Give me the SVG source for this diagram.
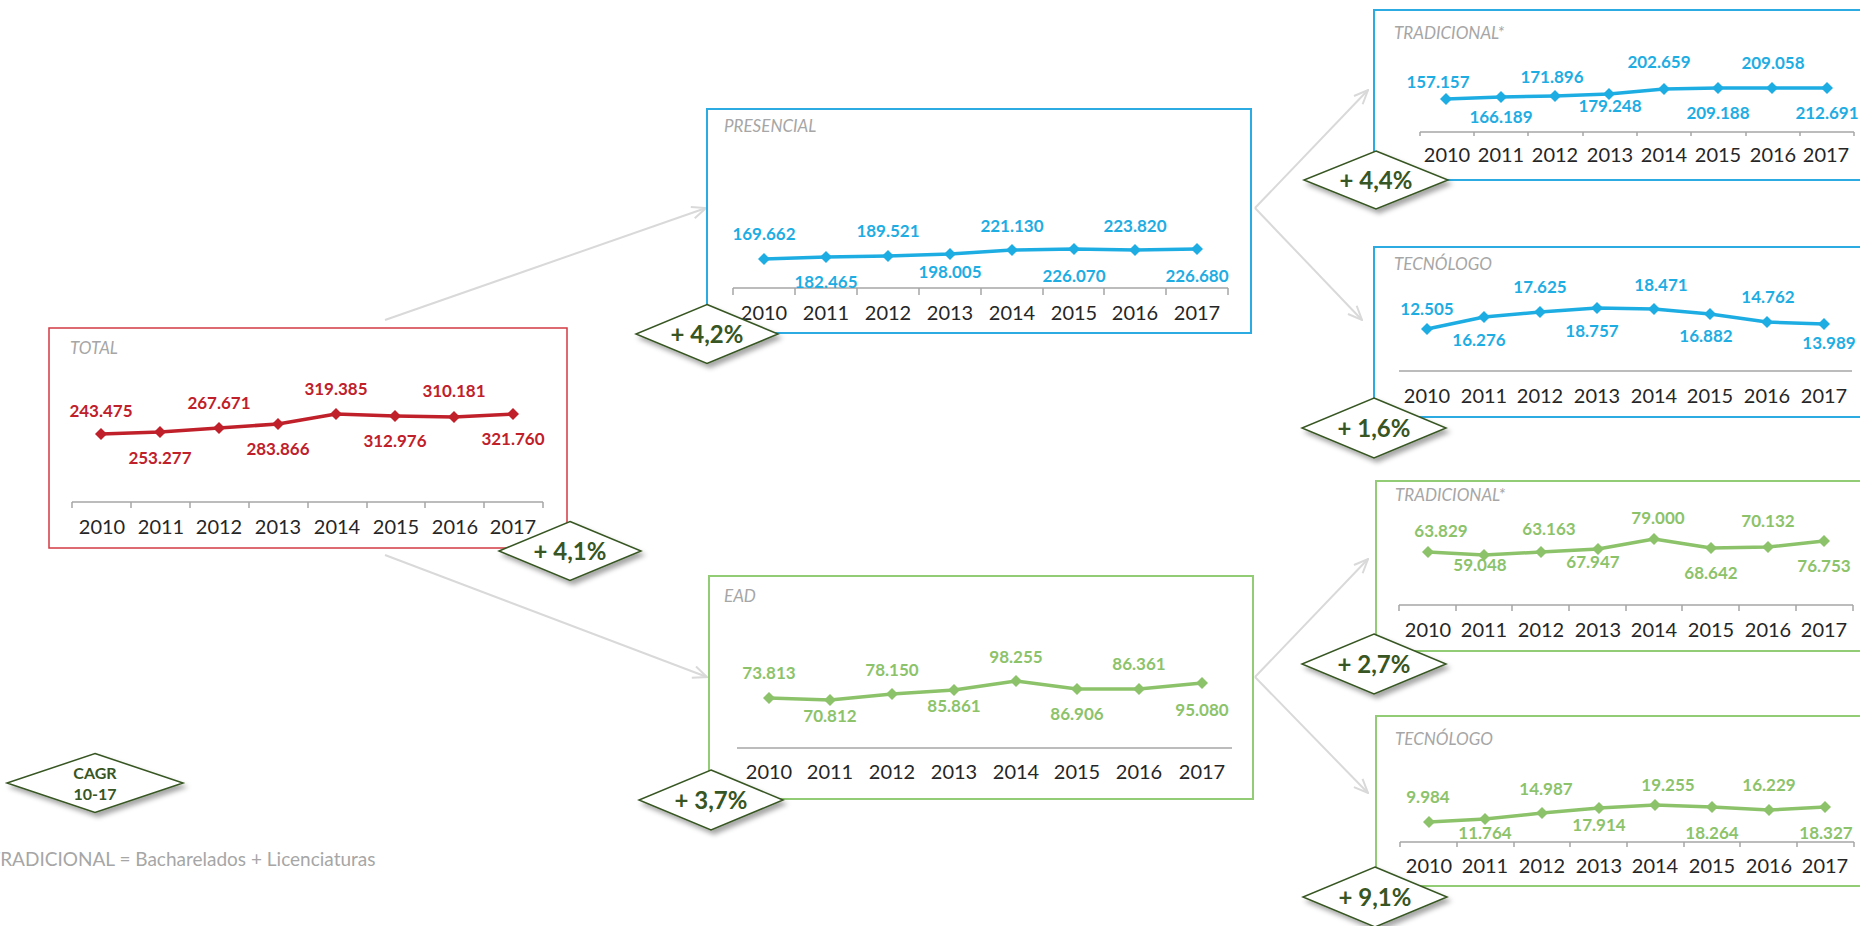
<svg xmlns="http://www.w3.org/2000/svg" xmlns:xlink="http://www.w3.org/1999/xlink" width="1860" height="926" viewBox="0 0 1860 926">
<defs>
<style>
.bg{fill:#fff}
.box-r{fill:#fff;stroke:#d43a43;stroke-width:1.5}
.box-b{fill:#fff;stroke:#2cabe3;stroke-width:2}
.box-g{fill:#fff;stroke:#92cc74;stroke-width:2}
.ttl{font-family:Lato,"Open Sans",sans-serif;font-style:italic;font-size:17px;fill:#a6a6a6}
.yr{font-family:Lato,"Open Sans",sans-serif;font-size:20px;fill:#262626;text-anchor:middle}
.v{font-family:Lato,"Open Sans",sans-serif;font-weight:700;font-size:17px;text-anchor:middle}
.r{fill:#c0202a}
.b{fill:#1eade3}
.g{fill:#8cc36a}
.ln{fill:none;stroke-width:3.5;stroke-linejoin:round;stroke-linecap:round}
.lr{stroke:#c0202a}
.lb{stroke:#1eade3}
.lg{stroke:#8cc36a}
.ax{stroke:#a6a6a6;stroke-width:1.5;fill:none}
.dm{fill:#fff;stroke:#375623;stroke-width:1.5;filter:url(#sh)}
.dt{font-family:Lato,"Open Sans",sans-serif;font-weight:700;font-size:24px;fill:#375623;text-anchor:middle}
.ct{font-family:Lato,"Open Sans",sans-serif;font-weight:700;font-size:16px;fill:#375623;text-anchor:middle}
.cn{stroke:#d9d9d9;stroke-width:2;fill:none;marker-end:url(#arr)}
.ft{font-family:Lato,"Open Sans",sans-serif;font-size:19px;fill:#a6a6a6}
</style>
<marker id="arr" viewBox="0 0 16 14" refX="15" refY="7" markerWidth="16" markerHeight="14" markerUnits="userSpaceOnUse" orient="auto">
<path d="M1,1 L15,7 L1,13" fill="none" stroke="#d9d9d9" stroke-width="2"/>
</marker>
<filter id="sh" x="-20%" y="-30%" width="150%" height="180%">
<feDropShadow dx="3" dy="4" stdDeviation="2.5" flood-color="#000" flood-opacity="0.35"/>
</filter>
<path id="mk" d="M0,-6 L6,0 L0,6 L-6,0Z"/>
</defs>
<rect class="bg" x="0" y="0" width="1860" height="926"/>

<g id="connectors">
<line class="cn" x1="385" y1="320" x2="706" y2="208"/>
<line class="cn" x1="385" y1="555" x2="707" y2="677"/>
<line class="cn" x1="1255" y1="208" x2="1368" y2="90"/>
<line class="cn" x1="1255" y1="208" x2="1362" y2="320"/>
<line class="cn" x1="1255" y1="677" x2="1368" y2="559"/>
<line class="cn" x1="1255" y1="677" x2="1368" y2="793"/>
</g>

<g id="total">
<rect class="box-r" x="49" y="328" width="518" height="220"/>
<text class="ttl" x="70" y="354">TOTAL</text>
<path class="ax" d="M72,502 H543 M72,502 V508 M131,502 V508 M190,502 V508 M249,502 V508 M308,502 V508 M367,502 V508 M425,502 V508 M484,502 V508 M543,502 V508"/>
<polyline class="ln lr" points="101,434 160,432 219,428 278,424 336,414 395,416 454,417 513,414"/>
<g class="r">
<use xlink:href="#mk" x="101" y="434"/><use xlink:href="#mk" x="160" y="432"/><use xlink:href="#mk" x="219" y="428"/><use xlink:href="#mk" x="278" y="424"/><use xlink:href="#mk" x="336" y="414"/><use xlink:href="#mk" x="395" y="416"/><use xlink:href="#mk" x="454" y="417"/><use xlink:href="#mk" x="513" y="414"/>
<text class="v" x="101" y="417">243.475</text>
<text class="v" x="160" y="464">253.277</text>
<text class="v" x="219" y="409">267.671</text>
<text class="v" x="278" y="455">283.866</text>
<text class="v" x="336" y="395">319.385</text>
<text class="v" x="395" y="447">312.976</text>
<text class="v" x="454" y="397">310.181</text>
<text class="v" x="513" y="445">321.760</text>
</g>
<text class="yr" x="102" y="534">2010</text><text class="yr" x="161" y="534">2011</text><text class="yr" x="219" y="534">2012</text><text class="yr" x="278" y="534">2013</text><text class="yr" x="337" y="534">2014</text><text class="yr" x="396" y="534">2015</text><text class="yr" x="455" y="534">2016</text><text class="yr" x="513" y="534">2017</text>
</g>

<g id="presencial">
<rect class="box-b" x="707" y="109" width="544" height="224"/>
<text class="ttl" x="724" y="132">PRESENCIAL</text>
<path class="ax" d="M733,288 H1228 M733,288 V295 M795,288 V295 M857,288 V295 M919,288 V295 M981,288 V295 M1043,288 V295 M1104,288 V295 M1166,288 V295 M1228,288 V295"/>
<polyline class="ln lb" points="764,259 826,257 888,256 950,254 1012,250 1074,249 1135,250 1197,249"/>
<g class="b">
<use xlink:href="#mk" x="764" y="259"/><use xlink:href="#mk" x="826" y="257"/><use xlink:href="#mk" x="888" y="256"/><use xlink:href="#mk" x="950" y="254"/><use xlink:href="#mk" x="1012" y="250"/><use xlink:href="#mk" x="1074" y="249"/><use xlink:href="#mk" x="1135" y="250"/><use xlink:href="#mk" x="1197" y="249"/>
<text class="v" x="764" y="240">169.662</text>
<text class="v" x="826" y="288">182.465</text>
<text class="v" x="888" y="237">189.521</text>
<text class="v" x="950" y="278">198.005</text>
<text class="v" x="1012" y="232">221.130</text>
<text class="v" x="1074" y="282">226.070</text>
<text class="v" x="1135" y="232">223.820</text>
<text class="v" x="1197" y="282">226.680</text>
</g>
<text class="yr" x="764" y="320">2010</text><text class="yr" x="826" y="320">2011</text><text class="yr" x="888" y="320">2012</text><text class="yr" x="950" y="320">2013</text><text class="yr" x="1012" y="320">2014</text><text class="yr" x="1074" y="320">2015</text><text class="yr" x="1135" y="320">2016</text><text class="yr" x="1197" y="320">2017</text>
</g>

<g id="ead">
<rect class="box-g" x="709" y="576" width="544" height="223"/>
<text class="ttl" x="724" y="602">EAD</text>
<path class="ax" d="M737,748 H1232"/>
<polyline class="ln lg" points="769,698 830,700 892,694 954,690 1016,681 1077,689 1139,689 1202,683"/>
<g class="g">
<use xlink:href="#mk" x="769" y="698"/><use xlink:href="#mk" x="830" y="700"/><use xlink:href="#mk" x="892" y="694"/><use xlink:href="#mk" x="954" y="690"/><use xlink:href="#mk" x="1016" y="681"/><use xlink:href="#mk" x="1077" y="689"/><use xlink:href="#mk" x="1139" y="689"/><use xlink:href="#mk" x="1202" y="683"/>
<text class="v" x="769" y="679">73.813</text>
<text class="v" x="830" y="722">70.812</text>
<text class="v" x="892" y="676">78.150</text>
<text class="v" x="954" y="712">85.861</text>
<text class="v" x="1016" y="663">98.255</text>
<text class="v" x="1077" y="720">86.906</text>
<text class="v" x="1139" y="670">86.361</text>
<text class="v" x="1202" y="716">95.080</text>
</g>
<text class="yr" x="769" y="779">2010</text><text class="yr" x="830" y="779">2011</text><text class="yr" x="892" y="779">2012</text><text class="yr" x="954" y="779">2013</text><text class="yr" x="1016" y="779">2014</text><text class="yr" x="1077" y="779">2015</text><text class="yr" x="1139" y="779">2016</text><text class="yr" x="1202" y="779">2017</text>
</g>

<g id="presencial-tradicional">
<rect class="box-b" x="1374" y="10" width="500" height="170"/>
<text class="ttl" x="1394" y="39">TRADICIONAL*</text>
<path class="ax" d="M1420,132 H1854 M1420,132 V136 M1474,132 V136 M1528,132 V136 M1583,132 V136 M1637,132 V136 M1691,132 V136 M1746,132 V136 M1800,132 V136 M1854,132 V136"/>
<polyline class="ln lb" points="1446,99 1501,97 1555,96 1609,94 1664,89 1718,88 1772,88 1827,88"/>
<g class="b">
<use xlink:href="#mk" x="1446" y="99"/><use xlink:href="#mk" x="1501" y="97"/><use xlink:href="#mk" x="1555" y="96"/><use xlink:href="#mk" x="1609" y="94"/><use xlink:href="#mk" x="1664" y="89"/><use xlink:href="#mk" x="1718" y="88"/><use xlink:href="#mk" x="1772" y="88"/><use xlink:href="#mk" x="1827" y="88"/>
<text class="v" x="1438" y="88">157.157</text>
<text class="v" x="1501" y="123">166.189</text>
<text class="v" x="1552" y="83">171.896</text>
<text class="v" x="1610" y="112">179.248</text>
<text class="v" x="1659" y="68">202.659</text>
<text class="v" x="1718" y="119">209.188</text>
<text class="v" x="1773" y="69">209.058</text>
<text class="v" x="1827" y="119">212.691</text>
</g>
<text class="yr" x="1447" y="162">2010</text><text class="yr" x="1501" y="162">2011</text><text class="yr" x="1555" y="162">2012</text><text class="yr" x="1610" y="162">2013</text><text class="yr" x="1664" y="162">2014</text><text class="yr" x="1718" y="162">2015</text><text class="yr" x="1773" y="162">2016</text><text class="yr" x="1826" y="162">2017</text>
</g>

<g id="presencial-tecnologo">
<rect class="box-b" x="1374" y="247" width="500" height="170"/>
<text class="ttl" x="1394" y="270">TECNÓLOGO</text>
<path class="ax" d="M1399,371 H1852"/>
<polyline class="ln lb" points="1427,329 1484,317 1540,312 1597,308 1654,309 1710,314 1767,322 1824,324"/>
<g class="b">
<use xlink:href="#mk" x="1427" y="329"/><use xlink:href="#mk" x="1484" y="317"/><use xlink:href="#mk" x="1540" y="312"/><use xlink:href="#mk" x="1597" y="308"/><use xlink:href="#mk" x="1654" y="309"/><use xlink:href="#mk" x="1710" y="314"/><use xlink:href="#mk" x="1767" y="322"/><use xlink:href="#mk" x="1824" y="324"/>
<text class="v" x="1427" y="315">12.505</text>
<text class="v" x="1479" y="346">16.276</text>
<text class="v" x="1540" y="293">17.625</text>
<text class="v" x="1592" y="337">18.757</text>
<text class="v" x="1661" y="291">18.471</text>
<text class="v" x="1706" y="342">16.882</text>
<text class="v" x="1768" y="303">14.762</text>
<text class="v" x="1829" y="349">13.989</text>
</g>
<text class="yr" x="1427" y="403">2010</text><text class="yr" x="1484" y="403">2011</text><text class="yr" x="1540" y="403">2012</text><text class="yr" x="1597" y="403">2013</text><text class="yr" x="1654" y="403">2014</text><text class="yr" x="1710" y="403">2015</text><text class="yr" x="1767" y="403">2016</text><text class="yr" x="1824" y="403">2017</text>
</g>

<g id="ead-tradicional">
<rect class="box-g" x="1376" y="481" width="500" height="170"/>
<text class="ttl" x="1395" y="501">TRADICIONAL*</text>
<path class="ax" d="M1399,605 H1853 M1399,605 V611 M1456,605 V611 M1512,605 V611 M1569,605 V611 M1626,605 V611 M1682,605 V611 M1739,605 V611 M1796,605 V611 M1853,605 V611"/>
<polyline class="ln lg" points="1428,552 1484,555 1541,552 1598,549 1654,539 1711,548 1768,547 1824,541"/>
<g class="g">
<use xlink:href="#mk" x="1428" y="552"/><use xlink:href="#mk" x="1484" y="555"/><use xlink:href="#mk" x="1541" y="552"/><use xlink:href="#mk" x="1598" y="549"/><use xlink:href="#mk" x="1654" y="539"/><use xlink:href="#mk" x="1711" y="548"/><use xlink:href="#mk" x="1768" y="547"/><use xlink:href="#mk" x="1824" y="541"/>
<text class="v" x="1441" y="537">63.829</text>
<text class="v" x="1480" y="571">59.048</text>
<text class="v" x="1549" y="535">63.163</text>
<text class="v" x="1593" y="568">67.947</text>
<text class="v" x="1658" y="524">79.000</text>
<text class="v" x="1711" y="579">68.642</text>
<text class="v" x="1768" y="527">70.132</text>
<text class="v" x="1824" y="572">76.753</text>
</g>
<text class="yr" x="1428" y="637">2010</text><text class="yr" x="1484" y="637">2011</text><text class="yr" x="1541" y="637">2012</text><text class="yr" x="1598" y="637">2013</text><text class="yr" x="1654" y="637">2014</text><text class="yr" x="1711" y="637">2015</text><text class="yr" x="1768" y="637">2016</text><text class="yr" x="1824" y="637">2017</text>
</g>

<g id="ead-tecnologo">
<rect class="box-g" x="1376" y="716" width="500" height="170"/>
<text class="ttl" x="1395" y="745">TECNÓLOGO</text>
<path class="ax" d="M1400,842 H1854 M1400,842 V847 M1457,842 V847 M1514,842 V847 M1570,842 V847 M1627,842 V847 M1684,842 V847 M1740,842 V847 M1797,842 V847 M1854,842 V847"/>
<polyline class="ln lg" points="1429,822 1485,819 1542,813 1599,808 1655,805 1712,807 1769,810 1825,807"/>
<g class="g">
<use xlink:href="#mk" x="1429" y="822"/><use xlink:href="#mk" x="1485" y="819"/><use xlink:href="#mk" x="1542" y="813"/><use xlink:href="#mk" x="1599" y="808"/><use xlink:href="#mk" x="1655" y="805"/><use xlink:href="#mk" x="1712" y="807"/><use xlink:href="#mk" x="1769" y="810"/><use xlink:href="#mk" x="1825" y="807"/>
<text class="v" x="1428" y="803">9.984</text>
<text class="v" x="1485" y="839">11.764</text>
<text class="v" x="1546" y="795">14.987</text>
<text class="v" x="1599" y="831">17.914</text>
<text class="v" x="1668" y="791">19.255</text>
<text class="v" x="1712" y="839">18.264</text>
<text class="v" x="1769" y="791">16.229</text>
<text class="v" x="1826" y="839">18.327</text>
</g>
<text class="yr" x="1429" y="873">2010</text><text class="yr" x="1485" y="873">2011</text><text class="yr" x="1542" y="873">2012</text><text class="yr" x="1599" y="873">2013</text><text class="yr" x="1655" y="873">2014</text><text class="yr" x="1712" y="873">2015</text><text class="yr" x="1769" y="873">2016</text><text class="yr" x="1825" y="873">2017</text>
</g>

<g id="cagr-total">
<path class="dm" d="M570,521.5 L641,551 L570,580.5 L499,551Z"/>
<text class="dt" x="570" y="560">+ 4,1%</text>
</g>
<g id="cagr-presencial">
<path class="dm" d="M707,304.5 L778,334 L707,363.5 L636,334Z"/>
<text class="dt" x="707" y="343">+ 4,2%</text>
</g>
<g id="cagr-ead">
<path class="dm" d="M711,770 L783,800 L711,830 L639,800Z"/>
<text class="dt" x="711" y="809">+ 3,7%</text>
</g>
<g id="cagr-pres-trad">
<path class="dm" d="M1376,151 L1448,180 L1376,209 L1304,180Z"/>
<text class="dt" x="1376" y="189">+ 4,4%</text>
</g>
<g id="cagr-pres-tec">
<path class="dm" d="M1374,398 L1446,428 L1374,458 L1302,428Z"/>
<text class="dt" x="1374" y="437">+ 1,6%</text>
</g>
<g id="cagr-ead-trad">
<path class="dm" d="M1374,634 L1446,664 L1374,694 L1302,664Z"/>
<text class="dt" x="1374" y="673">+ 2,7%</text>
</g>
<g id="cagr-ead-tec">
<path class="dm" d="M1375,867 L1447,897 L1375,927 L1303,897Z"/>
<text class="dt" x="1375" y="906">+ 9,1%</text>
</g>
<g id="cagr-legend">
<path class="dm" d="M95,753.5 L183,783 L95,812.5 L7,783Z"/>
<text class="ct" x="95" y="779">CAGR</text>
<text class="ct" x="95" y="800">10-17</text>
</g>

<text class="ft" x="-11" y="866">TRADICIONAL = Bacharelados + Licenciaturas</text>
</svg>
